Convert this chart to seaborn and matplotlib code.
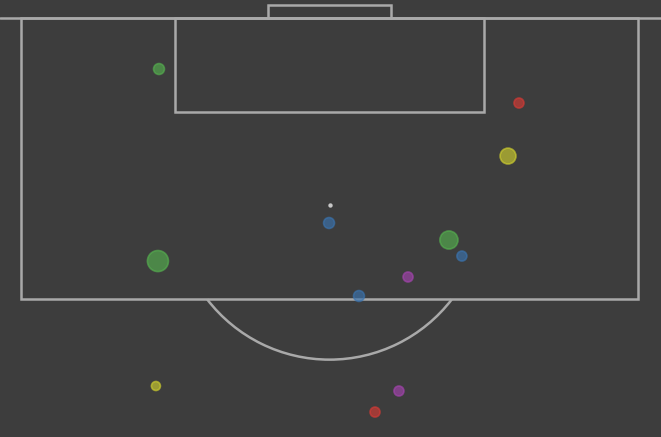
"""Shot map on the attacking penalty area, dark theme."""

import matplotlib.pyplot as plt
import numpy as np
import pandas as pd
import seaborn as sns
from matplotlib.patches import Arc, Rectangle

BG = "#3d3d3d"
LINE = "#a9a9a9"

# shot locations: x across the pitch (0 = goal centre), y = metres out from goal line
shot_x = [-11.05, 12.28, 11.57, -0.03, 7.74, 8.58, -11.12, 5.09, 1.91, -11.25, 4.5, 2.95]
shot_y = [3.27, 5.45, 8.85, 13.14, 14.23, 15.26, 15.58, 16.6, 17.82, 23.59, 23.91, 25.26]
shot_xg = [0.05, 0.04, 0.12, 0.05, 0.16, 0.04, 0.22, 0.04, 0.05, 0.03, 0.04, 0.04]
shot_group = ["Green", "Red", "Yellow", "Blue", "Green", "Blue",
              "Green", "Purple", "Blue", "Yellow", "Purple", "Red"]

PALETTE = {
    "Green": "#55b04f",
    "Red": "#d63a35",
    "Yellow": "#cfcf2e",
    "Blue": "#3a74b0",
    "Purple": "#a544b0",
}


def draw_box(ax):
    kw = dict(fill=False, edgecolor=LINE, linewidth=1.8, zorder=1)
    ax.axhline(0, color=LINE, linewidth=1.8, zorder=1)
    ax.add_patch(Rectangle((-20, 0), 40, 18, **kw))
    ax.add_patch(Rectangle((-10, 0), 20, 6, **kw))
    ax.add_patch(Rectangle((-4, -0.83), 8, 0.83, **kw))
    ax.add_patch(Arc((0, 12), 20, 19.8, theta1=37.3, theta2=142.7,
                     edgecolor=LINE, linewidth=1.8, zorder=1))
    ax.scatter([0], [12], s=10, color="#c8c8c8", zorder=2, linewidths=0)


def main():
    sns.set_theme(style="dark", rc={"axes.facecolor": BG, "figure.facecolor": BG})
    df = pd.DataFrame({"x": shot_x, "y": shot_y, "xg": shot_xg, "group": shot_group})

    fig = plt.figure(figsize=(6.61, 4.37), dpi=100)
    ax = fig.add_axes([0, 0, 1, 1])
    ax.set_facecolor(BG)

    draw_box(ax)
    sns.scatterplot(
        data=df, x="x", y="y", hue="group", size="xg",
        palette=PALETTE, sizes=(42, 229), alpha=0.65,
        linewidth=1.2, legend=False, ax=ax, zorder=3,
    )
    # re-colour edges so they match the fill
    coll = ax.collections[-1]
    coll.set_edgecolors(coll.get_facecolors())

    sx, sy = 15.43, 15.6
    ax.set_xlim(-329.5 / sx, 331.5 / sx)
    ax.set_ylim(419 / sy, -18 / sy)
    ax.set_aspect("auto")
    ax.axis("off")

    fig.savefig("out.png", dpi=100, facecolor=BG)
    plt.close(fig)


if __name__ == "__main__":
    main()
